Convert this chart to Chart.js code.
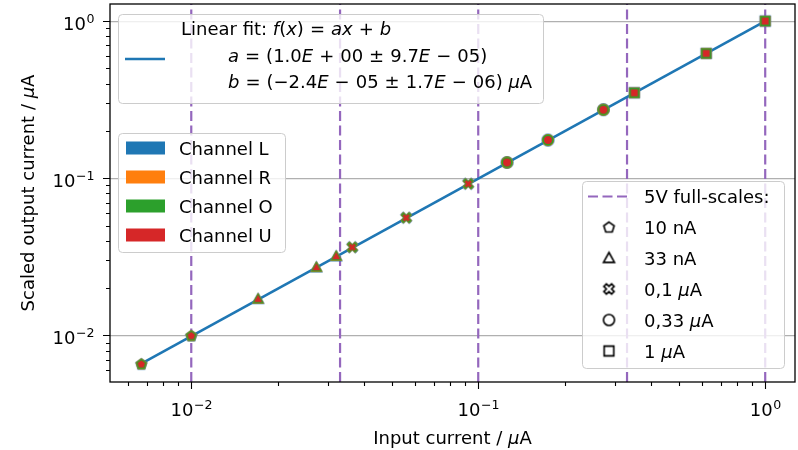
<!DOCTYPE html>
<html>
<head>
<meta charset="utf-8">
<script src="https://cdn.jsdelivr.net/npm/chart.js@4.4.1/dist/chart.umd.min.js"></script>
<style>
html, body { margin: 0; padding: 0; background: #fff; }
#wrap { width: 798px; height: 450px; }
</style>
</head>
<body>
<div id="wrap"><canvas id="grafico"></canvas></div>
<script>
// Input currents (µA), ordered by 5V full-scale range
const inputCurrent = [0.0067, 0.0100, 0.0171, 0.0273, 0.0320, 0.0364, 0.0561, 0.0923, 0.126, 0.175, 0.273, 0.350, 0.623, 1.000];
const pointRange   = [0, 0, 1, 1, 1, 2, 2, 2, 3, 3, 3, 4, 4, 4];

// Scaled output currents (µA) per channel
const outputL = [0.0066, 0.0100, 0.0171, 0.0272, 0.0320, 0.0364, 0.0561, 0.0922, 0.126, 0.175, 0.273, 0.350, 0.623, 1.000];
const outputR = [0.0066, 0.0100, 0.0171, 0.0272, 0.0320, 0.0364, 0.0561, 0.0922, 0.126, 0.175, 0.273, 0.350, 0.623, 1.000];
const outputO = [0.0066, 0.0100, 0.0171, 0.0272, 0.0320, 0.0364, 0.0561, 0.0922, 0.126, 0.175, 0.273, 0.350, 0.623, 1.000];
const outputU = [0.0066, 0.0100, 0.0171, 0.0272, 0.0320, 0.0364, 0.0561, 0.0922, 0.126, 0.175, 0.273, 0.350, 0.623, 1.000];

const channelNames = ['Channel L', 'Channel R', 'Channel O', 'Channel U'];
const fullScales = [0.01, 0.033, 0.1, 0.33, 1.0];
const rangeLabels = ['10 nA', '33 nA', '0,1 µA', '0,33 µA', '1 µA'];

// fit line endpoints
const fitX = [0.0067, 1.0];
const fitY = [0.0066, 1.0];

const xTickExps = [-2, -1, 0];
const yTickExps = [-2, -1, 0];

const channelColors = ['#1f77b4', '#ff7f0e', '#2ca02c', '#d62728'];
const channelMarkerSize = [13, 12, 11.5, 8];
const rangeShapes = ['pentagon', 'triangle', 'xfilled', 'circle', 'square'];
const FONT = '"DejaVu Sans", sans-serif';
const xLim = [0.00521, 1.27];
const yLim = [0.00505, 1.285];

function tracePath(g, shape, r) {
    g.beginPath();
    if (shape === 'circle') {
        g.arc(0, 0, r, 0, Math.PI * 2);
    } else if (shape === 'square') {
        g.rect(-r * 0.88, -r * 0.88, r * 1.76, r * 1.76);
    } else if (shape === 'triangle') {
        g.moveTo(0, -r); g.lineTo(r, r * 0.8); g.lineTo(-r, r * 0.8); g.closePath();
    } else if (shape === 'pentagon') {
        for (let k = 0; k < 5; k++) {
            const t = -Math.PI / 2 + k * 2 * Math.PI / 5;
            const px = r * Math.cos(t), py = r * Math.sin(t) + r * 0.1;
            if (k === 0) g.moveTo(px, py); else g.lineTo(px, py);
        }
        g.closePath();
    } else if (shape === 'xfilled') {
        const p = [[-1,-3],[1,-3],[1,-1],[3,-1],[3,1],[1,1],[1,3],[-1,3],[-1,1],[-3,1],[-3,-1],[-1,-1]];
        const c = Math.SQRT1_2, s = r / 3;
        p.forEach((q, k) => {
            const px = (q[0] * c - q[1] * c) * s, py = (q[0] * c + q[1] * c) * s;
            if (k === 0) g.moveTo(px, py); else g.lineTo(px, py);
        });
        g.closePath();
    }
}

function markerCanvas(shape, size, fill, stroke, lw) {
    const pad = Math.ceil(lw) + 1;
    const s = Math.ceil(size + 2 * pad);
    const c = document.createElement('canvas');
    c.width = s; c.height = s;
    const g = c.getContext('2d');
    g.translate(s / 2, s / 2);
    tracePath(g, shape, size / 2);
    g.fillStyle = fill;
    g.fill();
    if (lw > 0) { g.lineWidth = lw; g.strokeStyle = stroke; g.stroke(); }
    return c;
}

const channelData = [outputL, outputR, outputO, outputU];
const datasets = [];

channelData.forEach((vals, ci) => {
    const marks = rangeShapes.map(sh => markerCanvas(sh, channelMarkerSize[ci], channelColors[ci], channelColors[ci], 0));
    datasets.push({
        label: channelNames[ci],
        data: inputCurrent.map((x, i) => ({ x: x, y: vals[i] })),
        pointStyle: pointRange.map(r => marks[r]),
        pointRadius: 5,
        showLine: false,
        order: 3 - ci
    });
});

datasets.push({
    label: 'fit',
    data: fitX.map((x, i) => ({ x: x, y: fitY[i] })),
    showLine: true,
    borderColor: '#1f77b4',
    borderWidth: 2.6,
    pointRadius: 0,
    order: 4
});

fullScales.forEach(fs => {
    datasets.push({
        label: 'fs',
        data: [{ x: fs, y: yLim[0] }, { x: fs, y: yLim[1] }],
        showLine: true,
        borderColor: '#9467bd',
        borderWidth: 2.2,
        borderDash: [10, 4.5],
        pointRadius: 0,
        order: 5
    });
});

function richWidth(g, segs, size) {
    let w = 0;
    segs.forEach(s => {
        if (typeof s === 'number') { w += s; return; }
        g.font = (s[1] ? 'italic ' : '') + size + 'px ' + FONT;
        w += g.measureText(s[0]).width;
    });
    return w;
}

function drawRich(g, segs, x, y, size) {
    let cx = x;
    g.textBaseline = 'alphabetic';
    g.textAlign = 'left';
    segs.forEach(s => {
        if (typeof s === 'number') { cx += s; return; }
        g.font = (s[1] ? 'italic ' : '') + size + 'px ' + FONT;
        g.fillText(s[0], cx, y);
        cx += g.measureText(s[0]).width;
    });
}

function powLabel(g, e, x, y, align) {
    const base = '10', ex = (e < 0 ? '\u2212' : '') + Math.abs(e);
    g.font = '18px ' + FONT;
    const wb = g.measureText(base).width;
    g.font = '12.6px ' + FONT;
    const we = g.measureText(ex).width;
    let x0 = align === 'right' ? x - wb - we : x - (wb + we) / 2;
    g.textAlign = 'left';
    g.textBaseline = 'alphabetic';
    g.font = '18px ' + FONT;
    g.fillText(base, x0, y);
    g.font = '12.6px ' + FONT;
    g.fillText(ex, x0 + wb + 0.5, y - 7);
}

function legendBox(g, x, y, w, h) {
    g.save();
    g.beginPath();
    g.roundRect(x + 0.5, y + 0.5, w, h, 4);
    g.fillStyle = 'rgba(255,255,255,0.8)';
    g.fill();
    g.strokeStyle = '#cccccc';
    g.lineWidth = 1;
    g.stroke();
    g.restore();
}

const G = 6;
const fitLines = [
    [['Linear fit: ', 0], ['f', 1], ['(', 0], ['x', 1], [')', 0], G, ['=', 0], G, ['a', 1], ['x', 1], G, ['+', 0], G, ['b', 1]],
    [['a', 1], G, ['=', 0], G, ['(1.0', 0], ['E', 1], G, ['+', 0], G, ['00', 0], G, ['\u00b1', 0], G, ['9.7', 0], ['E', 1], G, ['\u2212', 0], G, ['05)', 0]],
    [['b', 1], G, ['=', 0], G, ['(\u22122.4', 0], ['E', 1], G, ['\u2212', 0], G, ['05', 0], G, ['\u00b1', 0], G, ['1.7', 0], ['E', 1], G, ['\u2212', 0], G, ['06) ', 0], ['\u00b5', 1], ['A', 0]]
];

const decor = {
    id: 'decor',
    afterDatasetsDraw(chart) {
        const g = chart.ctx, a = chart.chartArea, sx = chart.scales.x, sy = chart.scales.y;
        g.save();
        g.strokeStyle = '#000';
        g.lineWidth = 1.3;
        g.strokeRect(a.left, a.top, a.right - a.left, a.bottom - a.top);
        g.lineWidth = 1.1;
        g.beginPath();
        for (let e = -3; e <= 0; e++) {
            for (let m = 1; m <= 9; m++) {
                const v = m * Math.pow(10, e);
                const len = m === 1 ? 7 : 4;
                if (v >= xLim[0] && v <= xLim[1]) {
                    const px = Math.round(sx.getPixelForValue(v)) + 0.5;
                    g.moveTo(px, a.bottom); g.lineTo(px, a.bottom + len);
                }
                if (v >= yLim[0] && v <= yLim[1]) {
                    const py = Math.round(sy.getPixelForValue(v)) + 0.5;
                    g.moveTo(a.left, py); g.lineTo(a.left - len, py);
                }
            }
        }
        g.stroke();
        g.fillStyle = '#000';
        xTickExps.forEach(e => powLabel(g, e, sx.getPixelForValue(Math.pow(10, e)), a.bottom + 34, 'center'));
        yTickExps.forEach(e => powLabel(g, e, a.left - 16, sy.getPixelForValue(Math.pow(10, e)) + 9, 'right'));

        // axis titles
        const xt = [['Input current / ', 0], ['\u00b5', 1], ['A', 0]];
        const wx = richWidth(g, xt, 18);
        drawRich(g, xt, (a.left + a.right) / 2 - wx / 2, 444, 18);
        const yt = [['Scaled output current / ', 0], ['\u00b5', 1], ['A', 0]];
        const wy = richWidth(g, yt, 18);
        g.save();
        g.translate(34, (a.top + a.bottom) / 2);
        g.rotate(-Math.PI / 2);
        drawRich(g, yt, -wy / 2, 0, 18);
        g.restore();
        g.restore();
    },
    afterDraw(chart) {
        const g = chart.ctx;
        g.save();
        g.fillStyle = '#000';
        // fit legend
        legendBox(g, 118, 14, 425, 89);
        g.strokeStyle = '#1f77b4';
        g.lineWidth = 2.6;
        g.beginPath(); g.moveTo(125, 59); g.lineTo(165, 59); g.stroke();
        g.fillStyle = '#000';
        drawRich(g, fitLines[0], 181, 35, 18);
        drawRich(g, fitLines[1], 228, 62, 18);
        drawRich(g, fitLines[2], 228, 88, 18);

        // channel legend
        legendBox(g, 118, 133, 167, 119);
        channelNames.forEach((n, i) => {
            const cy = 148 + i * 29;
            g.fillStyle = channelColors[i];
            g.fillRect(126, cy - 6.5, 39, 13);
            g.fillStyle = '#000';
            drawRich(g, [[n, 0]], 179, cy + 6.5, 18);
        });

        // full-scale legend
        legendBox(g, 582, 181, 202, 187);
        g.strokeStyle = '#9467bd';
        g.lineWidth = 2.2;
        g.setLineDash([10, 4.5]);
        g.beginPath(); g.moveTo(588, 196.5); g.lineTo(628, 196.5); g.stroke();
        g.setLineDash([]);
        drawRich(g, [['5V full-scales:', 0]], 644, 203, 18);
        rangeLabels.forEach((lab, i) => {
            const cy = 227 + i * 31;
            const mk = markerCanvas(rangeShapes[i], 11, '#fff', '#000', 1.6);
            g.drawImage(mk, 609 - mk.width / 2, cy - mk.height / 2);
            const segs = lab.indexOf('\u00b5') >= 0
                ? [[lab.replace(' \u00b5A', ' '), 0], ['\u00b5', 1], ['A', 0]]
                : [[lab, 0]];
            g.fillStyle = '#000';
            drawRich(g, segs, 644, cy + 6.5, 18);
        });
        g.restore();
    }
};

new Chart(document.getElementById('grafico').getContext('2d'), {
    type: 'scatter',
    data: { datasets: datasets },
    options: {
        responsive: true,
        maintainAspectRatio: false,
        animation: false,
        layout: { autoPadding: false, padding: { left: 110, right: 3, top: 4, bottom: 68 } },
        plugins: { legend: { display: false }, tooltip: { enabled: false } },
        scales: {
            x: {
                type: 'logarithmic',
                min: xLim[0], max: xLim[1],
                ticks: { display: false },
                grid: { display: false, drawTicks: false },
                border: { display: false },
                afterBuildTicks: s => { s.ticks = xTickExps.map(e => ({ value: Math.pow(10, e) })); }
            },
            y: {
                type: 'logarithmic',
                min: yLim[0], max: yLim[1],
                ticks: { display: false },
                grid: { color: '#b0b0b0', lineWidth: 1.2, drawTicks: false },
                border: { display: false },
                afterBuildTicks: s => { s.ticks = yTickExps.map(e => ({ value: Math.pow(10, e) })); }
            }
        }
    },
    plugins: [decor]
});
</script>
</body>
</html>
